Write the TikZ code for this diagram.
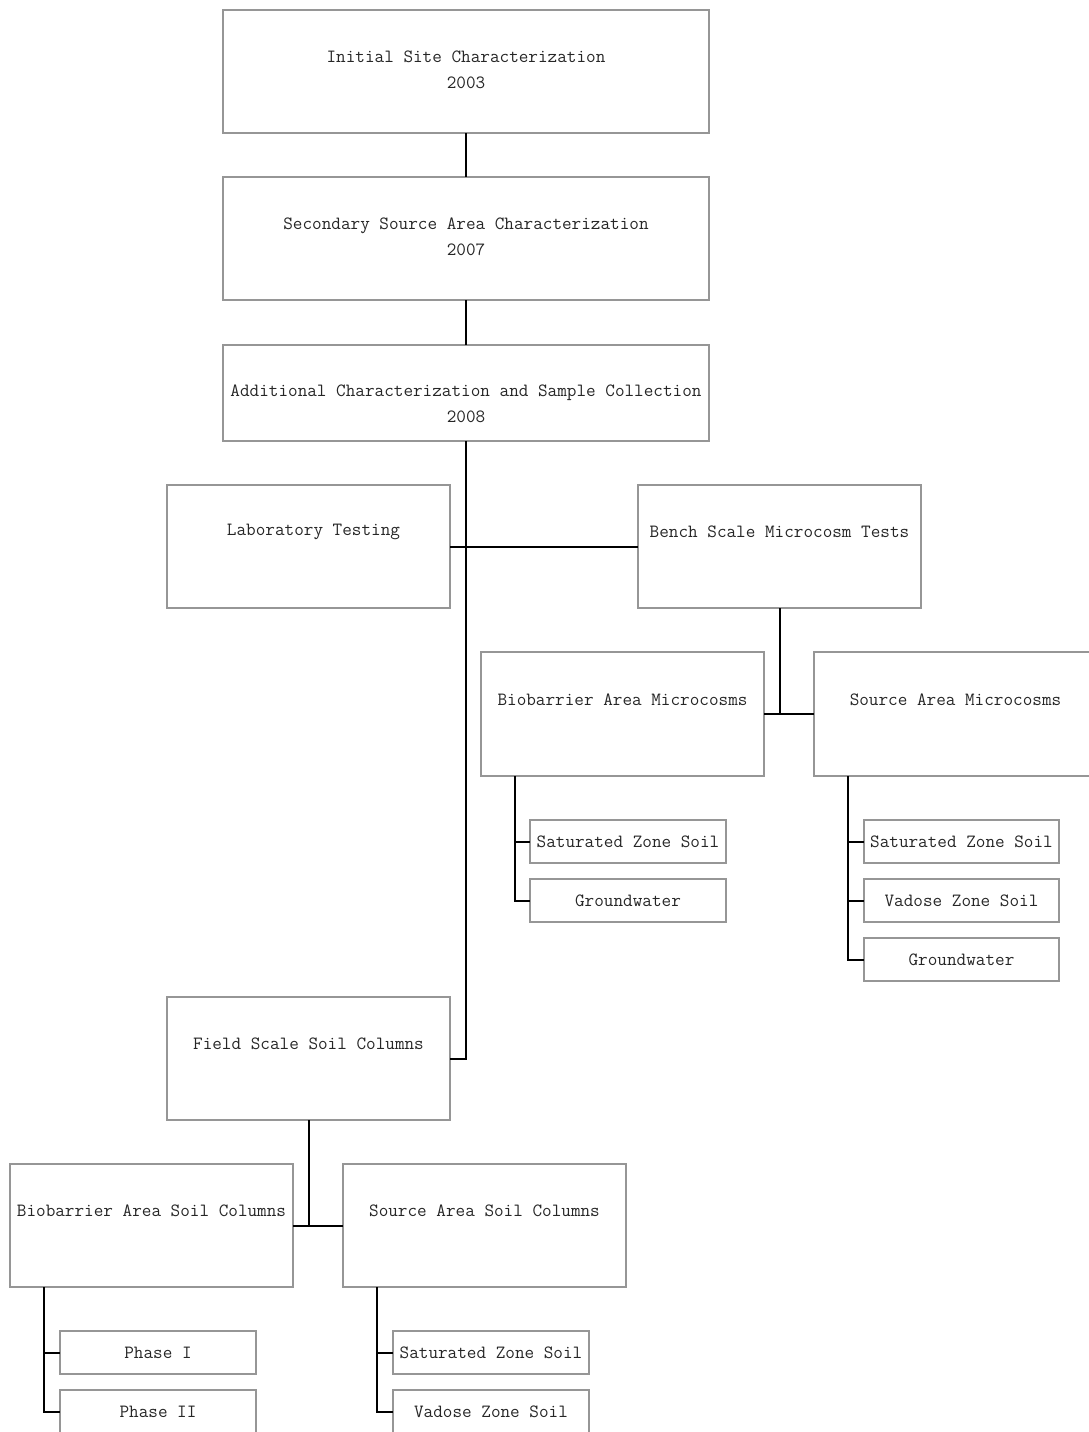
\documentclass[tikz,border=0pt]{standalone}
\usepackage{fontspec}
\usetikzlibrary{calc}
\definecolor{boxgray}{RGB}{150,150,150}
\tikzset{
  x=0.75pt, y=-0.75pt,
  bx/.style n args={2}{draw=boxgray, line width=1pt, anchor=north west, inner sep=0pt, outer sep=0pt,
    minimum width=#1*0.75pt, minimum height=#2*0.75pt},
  txt/.style={font=\ttfamily\fontsize{14}{19.5}\selectfont, align=center, inner sep=0pt, text=black!85},
  con/.style={draw=black, line width=1.5pt},
}
\begin{document}
\begin{tikzpicture}
\useasboundingbox (0,0) rectangle (1089,1432);
\clip (0,0) rectangle (1089,1432);
% boxes
\node[bx={486}{123}] (A) at (223,10) {};
\node[bx={486}{123}] (B) at (223,177) {};
\node[bx={486}{96}] (C) at (223,345) {};
\node[bx={283}{123}] (D) at (167,485) {};
\node[bx={283}{123}] (E) at (638,485) {};
\node[bx={283}{124}] (F) at (481,652) {};
\node[bx={283}{124}] (G) at (814,652) {};
\node[bx={196}{43}] (H1) at (530,820) {};
\node[bx={196}{43}] (H2) at (530,879) {};
\node[bx={195}{43}] (I1) at (864,820) {};
\node[bx={195}{43}] (I2) at (864,879) {};
\node[bx={195}{43}] (I3) at (864,938) {};
\node[bx={283}{123}] (J) at (167,997) {};
\node[bx={283}{123}] (K) at (10,1164) {};
\node[bx={283}{123}] (L) at (343,1164) {};
\node[bx={196}{43}] (M1) at (60,1331) {};
\node[bx={196}{43}] (M2) at (60,1390) {};
\node[bx={196}{43}] (N1) at (393,1331) {};
\node[bx={196}{43}] (N2) at (393,1390) {};
% texts
\node[txt] (tA) at ($(A.north)+(0,60)$) {Initial Site Characterization\\2003};
\node[txt] (tB) at ($(B.north)+(0,60)$) {Secondary Source Area Characterization\\2007};
\node[txt] (tC) at ($(C.north)+(0,59)$) {Additional Characterization and Sample Collection\\2008};
\node[txt] (tD) at ($(D.north)+(5,47)$) {Laboratory Testing};
\node[txt] (tE) at ($(E.north)+(0,47)$) {Bench Scale Microcosm Tests};
\node[txt] (tF) at ($(F.north)+(0,48)$) {Biobarrier Area Microcosms};
\node[txt] (tG) at ($(G.north)+(0,48)$) {Source Area Microcosms};
\node[txt] (tH1) at (H1.center) {Saturated Zone Soil};
\node[txt] (tH2) at (H2.center) {Groundwater};
\node[txt] (tI1) at (I1.center) {Saturated Zone Soil};
\node[txt] (tI2) at (I2.center) {Vadose Zone Soil};
\node[txt] (tI3) at (I3.center) {Groundwater};
\node[txt] (tJ) at ($(J.north)+(0,47)$) {Field Scale Soil Columns};
\node[txt] (tK) at ($(K.north)+(0,47)$) {Biobarrier Area Soil Columns};
\node[txt] (tL) at ($(L.north)+(0,47)$) {Source Area Soil Columns};
\node[txt] (tM1) at (M1.center) {Phase I};
\node[txt] (tM2) at (M2.center) {Phase II};
\node[txt] (tN1) at (N1.center) {Saturated Zone Soil};
\node[txt] (tN2) at (N2.center) {Vadose Zone Soil};
% connectors
\draw[con] (A.south) -- (B.north);
\draw[con] (B.south) -- (C.north);
\draw[con] (C.south) |- (J.east);
\draw[con] (D.east) -- (E.west);
\draw[con] (E.south) -- (E.south |- F.east);
\draw[con] (F.east) -- (G.west);
\coordinate (f0) at ($(F.south west)+(34,0)$);
\draw[con] (f0) |- (H2.west);
\draw[con] (f0 |- H1.west) -- (H1.west);
\coordinate (g0) at ($(G.south west)+(34,0)$);
\draw[con] (g0) |- (I3.west);
\draw[con] (g0 |- I1.west) -- (I1.west);
\draw[con] (g0 |- I2.west) -- (I2.west);
\draw[con] (J.south) -- (J.south |- K.east);
\draw[con] (K.east) -- (L.west);
\coordinate (k0) at ($(K.south west)+(34,0)$);
\draw[con] (k0) |- (M2.west);
\draw[con] (k0 |- M1.west) -- (M1.west);
\coordinate (l0) at ($(L.south west)+(34,0)$);
\draw[con] (l0) |- (N2.west);
\draw[con] (l0 |- N1.west) -- (N1.west);
\end{tikzpicture}
\end{document}
